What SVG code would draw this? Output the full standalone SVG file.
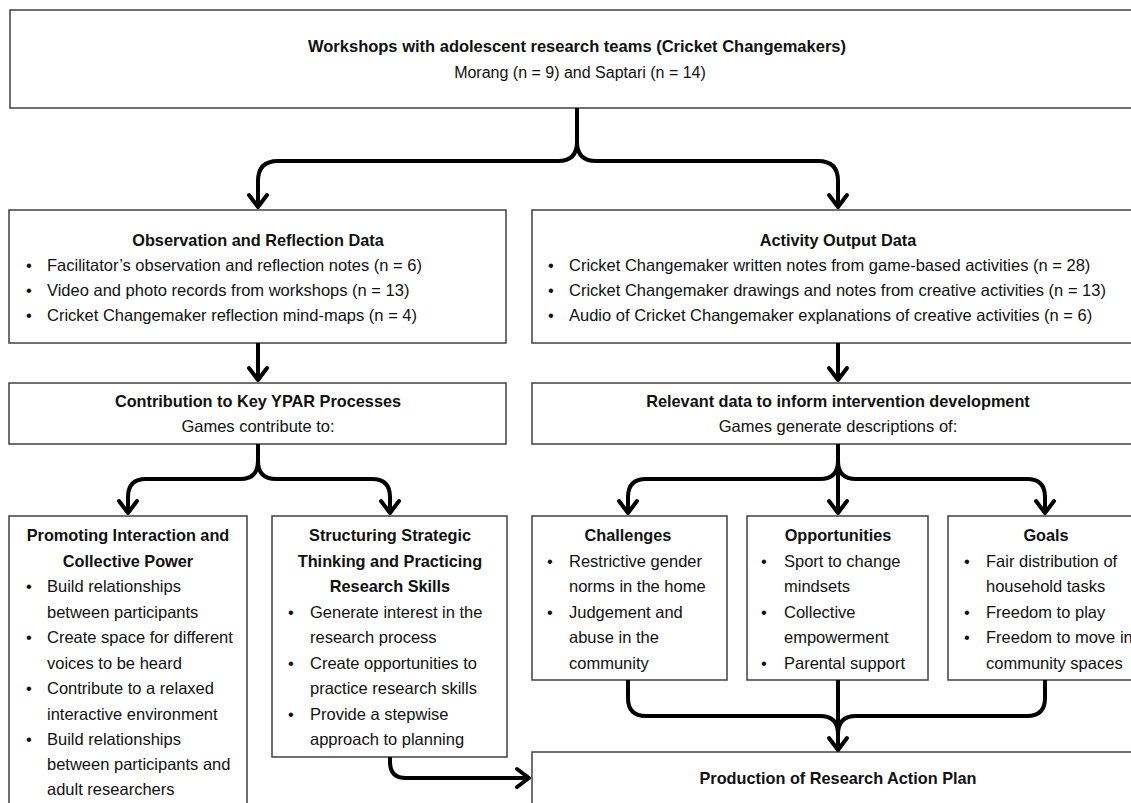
<svg xmlns="http://www.w3.org/2000/svg" width="1131" height="803" viewBox="0 0 1131 803">
<style>
text{font-family:"Liberation Sans",Arial,sans-serif;fill:#111;}
.t{font-size:16.3px;font-weight:bold;text-anchor:middle;}
.s{font-size:16.5px;text-anchor:middle;}
.b{font-size:16.5px;}
.box{fill:#fff;stroke:#404040;stroke-width:1.5;}
.c{fill:none;stroke:#000;stroke-width:4;stroke-linecap:butt;stroke-linejoin:round;}
</style>
<defs>
<marker id="ah" viewBox="-4 -13 20 26" refX="11" refY="0" markerWidth="20" markerHeight="26" markerUnits="userSpaceOnUse" orient="auto" overflow="visible">
<path d="M-1,-9 L11,0 L-1,9" fill="none" stroke="#000" stroke-width="4" stroke-linejoin="round" stroke-linecap="round"/>
</marker>
</defs>
<rect width="1131" height="803" fill="#fff"/>

<g id="top">
<rect class="box" x="10" y="10" width="1140" height="98"/>
<text class="t" x="577" y="52" style="font-size:16.5px">Workshops with adolescent research teams (Cricket Changemakers)</text>
<text class="s" x="580" y="78" style="font-size:16px">Morang (n = 9) and Saptari (n = 14)</text>
</g>

<g id="obs">
<rect class="box" x="9" y="210" width="497" height="133"/>
<text class="t" x="258" y="246">Observation and Reflection Data</text>
<text class="b" x="26" y="271">•</text><text class="b" x="47" y="271">Facilitator’s observation and reflection notes (n = 6)</text>
<text class="b" x="26" y="296">•</text><text class="b" x="47" y="296">Video and photo records from workshops (n = 13)</text>
<text class="b" x="26" y="321">•</text><text class="b" x="47" y="321">Cricket Changemaker reflection mind-maps (n = 4)</text>
</g>

<g id="activity">
<rect class="box" x="532" y="210" width="620" height="133"/>
<text class="t" x="838" y="246">Activity Output Data</text>
<text class="b" x="548" y="271">•</text><text class="b" x="569" y="271">Cricket Changemaker written notes from game-based activities (n = 28)</text>
<text class="b" x="548" y="296">•</text><text class="b" x="569" y="296">Cricket Changemaker drawings and notes from creative activities (n = 13)</text>
<text class="b" x="548" y="321">•</text><text class="b" x="569" y="321">Audio of Cricket Changemaker explanations of creative activities (n = 6)</text>
</g>

<g id="contribution">
<rect class="box" x="9" y="383" width="497" height="61"/>
<text class="t" x="258" y="407">Contribution to Key YPAR Processes</text>
<text class="s" x="258" y="432">Games contribute to:</text>
</g>

<g id="relevant">
<rect class="box" x="532" y="383" width="620" height="61"/>
<text class="t" x="838" y="407">Relevant data to inform intervention development</text>
<text class="s" x="838" y="432">Games generate descriptions of:</text>
</g>

<g id="promoting">
<rect class="box" x="9" y="516" width="238" height="300"/>
<text class="t" x="128" y="541">Promoting Interaction and</text>
<text class="t" x="128" y="567">Collective Power</text>
<text class="b" x="26" y="592">•</text><text class="b" x="47" y="592">Build relationships</text>
<text class="b" x="47" y="618">between participants</text>
<text class="b" x="26" y="643">•</text><text class="b" x="47" y="643">Create space for different</text>
<text class="b" x="47" y="669">voices to be heard</text>
<text class="b" x="26" y="694">•</text><text class="b" x="47" y="694">Contribute to a relaxed</text>
<text class="b" x="47" y="720">interactive environment</text>
<text class="b" x="26" y="745">•</text><text class="b" x="47" y="745">Build relationships</text>
<text class="b" x="47" y="770">between participants and</text>
<text class="b" x="47" y="795">adult researchers</text>
</g>

<g id="structuring">
<rect class="box" x="272" y="516" width="235" height="241"/>
<text class="t" x="390" y="541">Structuring Strategic</text>
<text class="t" x="390" y="567">Thinking and Practicing</text>
<text class="t" x="390" y="592">Research Skills</text>
<text class="b" x="288" y="618">•</text><text class="b" x="310" y="618">Generate interest in the</text>
<text class="b" x="310" y="643">research process</text>
<text class="b" x="288" y="669">•</text><text class="b" x="310" y="669">Create opportunities to</text>
<text class="b" x="310" y="694">practice research skills</text>
<text class="b" x="288" y="720">•</text><text class="b" x="310" y="720">Provide a stepwise</text>
<text class="b" x="310" y="745">approach to planning</text>
</g>

<g id="challenges">
<rect class="box" x="532" y="516" width="195" height="164"/>
<text class="t" x="628" y="541">Challenges</text>
<text class="b" x="547" y="567">•</text><text class="b" x="569" y="567">Restrictive gender</text>
<text class="b" x="569" y="592">norms in the home</text>
<text class="b" x="547" y="618">•</text><text class="b" x="569" y="618">Judgement and</text>
<text class="b" x="569" y="643">abuse in the</text>
<text class="b" x="569" y="669">community</text>
</g>

<g id="opportunities">
<rect class="box" x="747" y="516" width="181" height="164"/>
<text class="t" x="838" y="541">Opportunities</text>
<text class="b" x="761" y="567">•</text><text class="b" x="784" y="567">Sport to change</text>
<text class="b" x="784" y="592">mindsets</text>
<text class="b" x="761" y="618">•</text><text class="b" x="784" y="618">Collective</text>
<text class="b" x="784" y="643">empowerment</text>
<text class="b" x="761" y="669">•</text><text class="b" x="784" y="669">Parental support</text>
</g>

<g id="goals">
<rect class="box" x="948" y="516" width="200" height="164"/>
<text class="t" x="1046" y="541">Goals</text>
<text class="b" x="964" y="567">•</text><text class="b" x="986" y="567">Fair distribution of</text>
<text class="b" x="986" y="592">household tasks</text>
<text class="b" x="964" y="618">•</text><text class="b" x="986" y="618">Freedom to play</text>
<text class="b" x="964" y="643">•</text><text class="b" x="986" y="643">Freedom to move in</text>
<text class="b" x="986" y="669">community spaces</text>
</g>

<g id="production">
<rect class="box" x="532" y="752" width="620" height="80"/>
<text class="t" x="838" y="784">Production of Research Action Plan</text>
</g>

<g id="connectors">
<path class="c" d="M577,108 V142 Q577,161 558,161 H278 Q258,161 258,181 V207" marker-end="url(#ah)"/>
<path class="c" d="M577,142 Q577,161 596,161 H818 Q838,161 838,181 V207" marker-end="url(#ah)"/>
<path class="c" d="M258,343 V380" marker-end="url(#ah)"/>
<path class="c" d="M838,343 V380" marker-end="url(#ah)"/>
<path class="c" d="M258,444 V461 Q258,479 240,479 H146 Q128,479 128,497 V513" marker-end="url(#ah)"/>
<path class="c" d="M258,461 Q258,479 276,479 H372 Q390,479 390,497 V513" marker-end="url(#ah)"/>
<path class="c" d="M838,444 V513" marker-end="url(#ah)"/>
<path class="c" d="M838,461 Q838,479 820,479 H646 Q628,479 628,497 V513" marker-end="url(#ah)"/>
<path class="c" d="M838,461 Q838,479 856,479 H1027 Q1045,479 1045,497 V513" marker-end="url(#ah)"/>
<path class="c" d="M628,680 V698 Q628,716 646,716 H820 Q838,716 838,734"/>
<path class="c" d="M1045,680 V698 Q1045,716 1027,716 H856 Q838,716 838,734"/>
<path class="c" d="M838,680 V750" marker-end="url(#ah)"/>
<path class="c" d="M390,757 V762 Q390,778 406,778 H529" marker-end="url(#ah)"/>
</g>
</svg>
